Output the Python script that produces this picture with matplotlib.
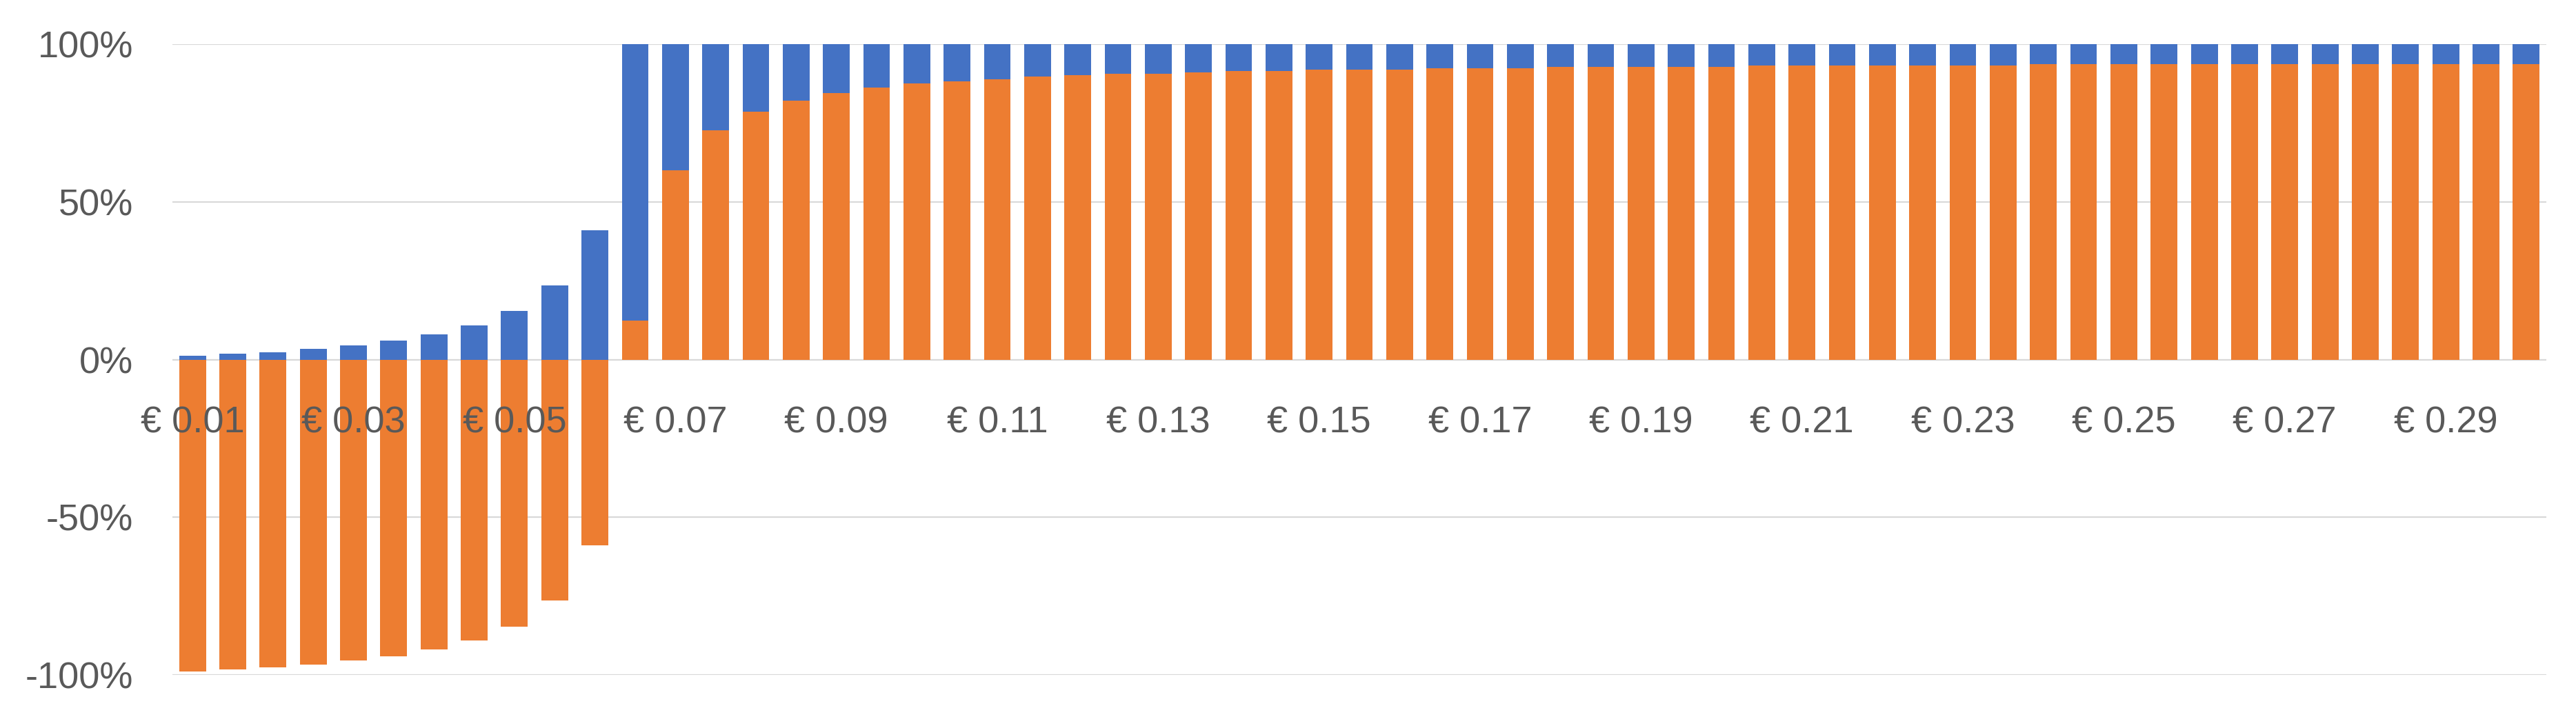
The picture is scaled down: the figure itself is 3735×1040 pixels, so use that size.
import numpy as np
import matplotlib
matplotlib.use("Agg")
import matplotlib.pyplot as plt

plt.rcParams['font.family'] = ['Liberation Sans', 'DejaVu Sans']

# price per unit (EUR)
prices = [0.010, 0.015, 0.020, 0.025, 0.030, 0.035, 0.040, 0.045, 0.050, 0.055,
          0.060, 0.065, 0.070, 0.075, 0.080, 0.085, 0.090, 0.095, 0.100, 0.105,
          0.110, 0.115, 0.120, 0.125, 0.130, 0.135, 0.140, 0.145, 0.150, 0.155,
          0.160, 0.165, 0.170, 0.175, 0.180, 0.185, 0.190, 0.195, 0.200, 0.205,
          0.210, 0.215, 0.220, 0.225, 0.230, 0.235, 0.240, 0.245, 0.250, 0.255,
          0.260, 0.265, 0.270, 0.275, 0.280, 0.285, 0.290, 0.295, 0.300]

# orange series (%)
orange = [-98.9, -98.2, -97.6, -96.7, -95.5, -94.0, -92.0, -89.1, -84.6, -76.5,
          -59.0, 12.3, 59.9, 72.7, 78.6, 82.1, 84.4, 86.2, 87.5, 88.3,
          88.8, 89.7, 90.2, 90.6, 90.6, 91.1, 91.5, 91.5, 91.9, 91.9,
          91.9, 92.4, 92.4, 92.4, 92.8, 92.8, 92.8, 92.8, 92.8, 93.2,
          93.2, 93.2, 93.2, 93.2, 93.2, 93.2, 93.6, 93.6, 93.6, 93.6,
          93.6, 93.6, 93.6, 93.6, 93.6, 93.6, 93.6, 93.6, 93.6]

# blue series (%)
blue = [1.1, 1.8, 2.4, 3.3, 4.5, 6.0, 8.0, 10.9, 15.4, 23.5,
        41.0, 87.7, 40.1, 27.3, 21.4, 17.9, 15.6, 13.8, 12.5, 11.7,
        11.2, 10.3, 9.8, 9.4, 9.4, 8.9, 8.5, 8.5, 8.1, 8.1,
        8.1, 7.6, 7.6, 7.6, 7.2, 7.2, 7.2, 7.2, 7.2, 6.8,
        6.8, 6.8, 6.8, 6.8, 6.8, 6.8, 6.4, 6.4, 6.4, 6.4,
        6.4, 6.4, 6.4, 6.4, 6.4, 6.4, 6.4, 6.4, 6.4]

BLUE = '#4472C4'
ORANGE = '#ED7D31'
GRID = '#D9D9D9'
TEXT = '#595959'

x = np.arange(len(prices))
org = np.array(orange) / 100
blu = np.array(blue) / 100
blue_bottom = np.where(org > 0, org, 0)

fig = plt.figure(figsize=(37.35, 10.4), dpi=100)
ax = fig.add_axes([250 / 3735, 61 / 1040, 3442 / 3735, 915 / 1040])

ax.bar(x, org, width=0.665, color=ORANGE, zorder=3)
ax.bar(x, blu, width=0.665, bottom=blue_bottom, color=BLUE, zorder=3)

ax.set_xlim(-0.5, len(prices) - 0.5)
ax.set_ylim(-1, 1)

yt = [-1, -0.5, 0, 0.5, 1]
ax.set_yticks(yt)
ax.set_yticklabels(['-100%', '-50%', '0%', '50%', '100%'])
for y in yt:
    ax.axhline(y, color=GRID, lw=1.6, zorder=1)

tick_idx = list(range(0, len(prices), 4))
ax.set_xticks(tick_idx)
ax.set_xticklabels([f"€ {prices[i]:.2f}" for i in tick_idx])

for s in ax.spines.values():
    s.set_visible(False)
ax.spines['bottom'].set_position(('data', 0))

ax.tick_params(axis='y', length=0, pad=41, labelsize=39, labelcolor=TEXT)
ax.tick_params(axis='x', length=0, pad=48, labelsize=39, labelcolor=TEXT)
# labels sit on top of the bars like in the original
ax.xaxis.set_zorder(5)

fig.savefig('out.png', dpi=100, facecolor='white')
